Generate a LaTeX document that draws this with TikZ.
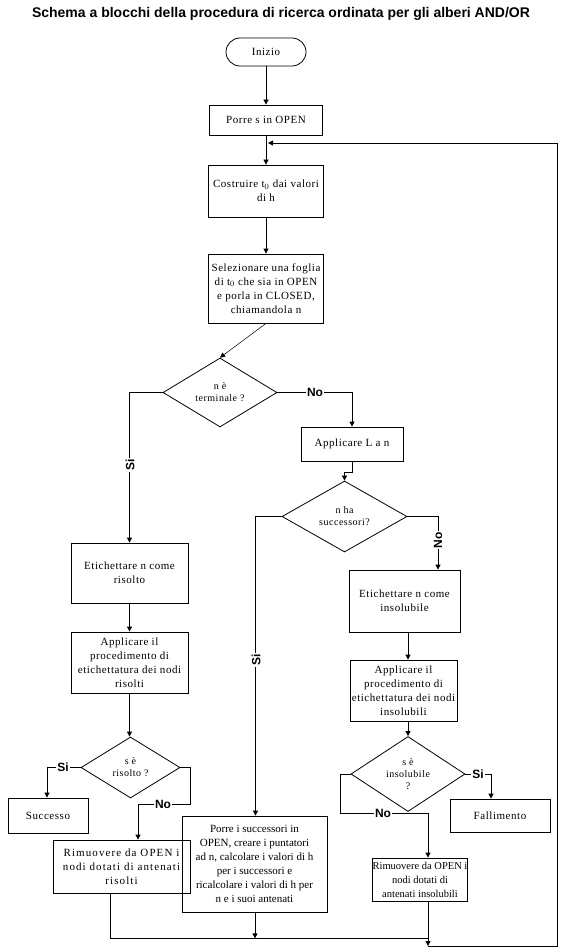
\documentclass[tikz,border=0pt]{standalone}
\usepackage{fontspec}
\setmainfont{Liberation Serif}[LetterSpace=5]
\newfontfamily\plainserif{Liberation Serif}
\newfontfamily\wideserif{Liberation Serif}[LetterSpace=10]
\newfontfamily\lblfont{Liberation Sans}
\usetikzlibrary{shapes.geometric,arrows.meta}
\begin{document}
\begin{tikzpicture}[x=1pt,y=-1pt,
  every node/.style={font=\fontsize{11}{14}\selectfont, align=center, inner sep=0pt},
  box/.style={draw, line width=0.8pt, rectangle},
  term/.style={draw, line width=0.8pt, rounded corners=14pt},
  dec/.style={draw, line width=0.8pt, diamond, font=\fontsize{10}{12}\selectfont},
  lbl/.style={font=\lblfont\bfseries\fontsize{12}{12}\selectfont, fill=white, inner sep=1pt},
  con/.style={line width=0.8pt},
  arr/.style={line width=0.8pt, -{Triangle[length=5pt,width=5pt]}},
  thin arr/.style={line width=0.5pt, -{Triangle[length=5pt,width=5pt]}}
]
\useasboundingbox[fill=white] (0,0) rectangle (562,952);
\node[font=\lblfont\bfseries\fontsize{14}{16}\selectfont] (title) at (281,14) {Schema a blocchi della procedura di ricerca ordinata per gli alberi AND/OR};

\node[term, minimum width=80pt, minimum height=28pt] (inizio) at (266,52) {Inizio};
\node[box, minimum width=113pt, minimum height=30pt] (porre) at (266,120) {Porre s in OPEN};
\node[box, minimum width=115pt, minimum height=52pt] (costr) at (266,191) {Costruire t$_0$ dai valori\\di h};
\node[box, minimum width=115pt, minimum height=69pt] (selez) at (266,288.5) {Selezionare una foglia\\di t$_0$ che sia in OPEN\\e porla in CLOSED,\\chiamandola n};
\node[dec, minimum width=114pt, minimum height=69pt] (d1) at (220,392.5) {n è\\terminale ?};
\node[box, minimum width=102pt, minimum height=34pt] (applL) at (352,444) {Applicare L a n};
\node[dec, minimum width=125pt, minimum height=71pt] (d2) at (344.5,516.5) {n ha\\successori?};
\node[box, minimum width=111pt, minimum height=62pt] (etins) at (404.5,601) {Etichettare n come\\insolubile};
\node[box, minimum width=117pt, minimum height=60pt] (etris) at (129.5,573) {Etichettare n come\\risolto};
\node[box, minimum width=117pt, minimum height=61pt] (applris) at (129.5,662.5) {Applicare il\\procedimento di\\etichettatura dei nodi\\risolti};
\node[dec, minimum width=99pt, minimum height=61pt] (d3) at (130.5,767.5) {s è\\risolto ?};
\node[box, minimum width=80pt, minimum height=35pt] (succ) at (48,815.5) {Successo};
\node[box, minimum width=137pt, minimum height=53pt, font=\wideserif\fontsize{11}{14}\selectfont] (rimris) at (121.5,866.5) {Rimuovere da OPEN i\\nodi dotati di antenati\\risolti};
\node[box, minimum width=145pt, minimum height=96pt, font=\plainserif\fontsize{11}{14}\selectfont] (porresucc) at (254.5,864) {Porre i successori in\\OPEN, creare i puntatori\\ad n, calcolare i valori di h\\per i successori e\\ricalcolare i valori di h per\\n e i suoi antenati};
\node[box, minimum width=107pt, minimum height=61pt] (applins) at (403.5,690.5) {Applicare il\\procedimento di\\etichettatura dei nodi\\insolubili};
\node[dec, minimum width=114pt, minimum height=68pt] (d4) at (408,774) {s è\\insolubile\\?};
\node[box, minimum width=100pt, minimum height=33pt] (fall) at (500,815.5) {Fallimento};
\node[box, minimum width=94pt, minimum height=43pt, font=\plainserif\fontsize{10.5}{14}\selectfont] (rimins) at (420,879.5) {Rimuovere da OPEN i\\nodi dotati di\\antenati insolubili};

\coordinate (join) at (428,946);
\coordinate (loopin) at (268,143);

\draw[arr] (inizio.south) -- (porre.north);
\draw[arr] (porre.south) -- (costr.north);
\draw[arr] (costr.south) -- (selez.north);
\draw[thin arr] (selez.south) -- (d1.north);
\draw[arr] (d1.west) -| (etris.north);
\draw[arr] (d1.east) -| (applL.north);
\draw[arr] (applL.south) -- ++(0,11) -| (d2.north);
\draw[arr] (d2.east) -| ([xshift=33.5pt]etins.north);
\draw[arr] (d2.west) -| ([xshift=1pt]porresucc.north);
\draw[arr] (etris.south) -- (applris.north);
\draw[arr] (applris.south) -- (applris.south |- d3.north);
\draw[arr] (d3.west) -| ([xshift=-1pt]succ.north);
\draw[arr] (d3.east) -- ++(9.5,0) -- ++(0,36.5) -| ([xshift=16.5pt]rimris.north);
\draw[arr] ([xshift=3.5pt]etins.south) -- ([xshift=4.5pt]applins.north);
\draw[arr] ([xshift=4.5pt]applins.south) -- (d4.north);
\draw[arr] (d4.east) -| ([xshift=-9pt]fall.north);
\draw[arr] (d4.west) -- ++(-10,0) -- ++(0,39) -| ([xshift=8pt]rimins.north);
\draw[con] ([xshift=-11.5pt]rimris.south) |- (428,938);
\draw[arr] ([xshift=0.5pt]porresucc.south) -- ++(0,26);
\draw[arr] ([xshift=8pt]rimins.south) -- (join);
\draw[arr] (join) -- (557,946) -- (557,143) -- (loopin);

\node[lbl, rotate=90] (si1) at (130,465) {Si};
\node[lbl] (no1) at (315,392) {No};
\node[lbl, rotate=90] (no2) at (438,540) {No};
\node[lbl, rotate=90] (si2) at (256,660) {Si};
\node[lbl] (si3) at (63,767.5) {Si};
\node[lbl] (no3) at (163,804) {No};
\node[lbl] (si4) at (478,774) {Si};
\node[lbl] (no4) at (383,813) {No};
\end{tikzpicture}
\end{document}
